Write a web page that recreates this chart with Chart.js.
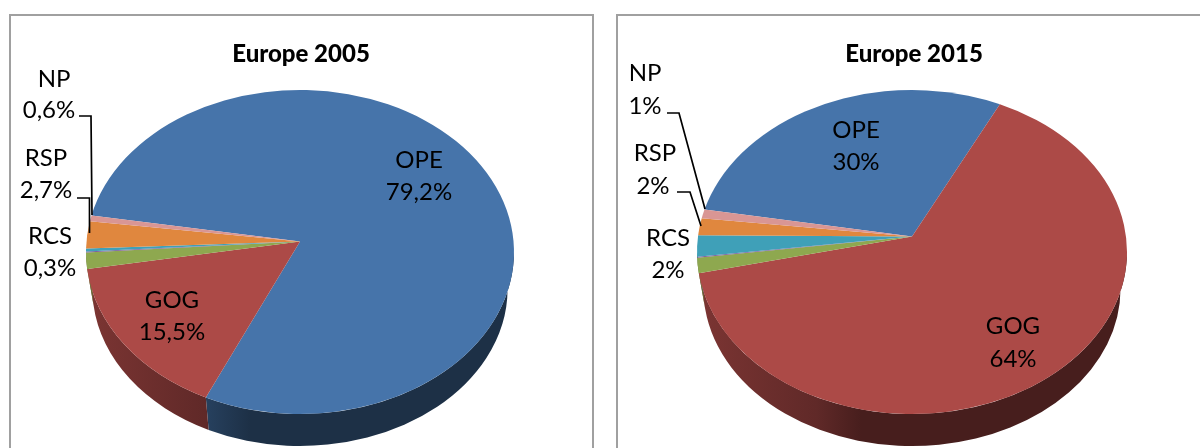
<!DOCTYPE html>
<html><head><meta charset="utf-8">
<style>
html,body{margin:0;padding:0;width:1200px;height:448px;overflow:hidden;background:#fff}
.panel{position:absolute;top:14px;height:460px;border:2px solid #a0a0a0;box-sizing:border-box;background:#fff}
#p1{left:9px;width:585px}
#p2{left:616px;width:620px}
canvas{position:absolute;top:0}
#c1{left:0}
#c2{left:616px}
</style>
<script src="https://cdn.jsdelivr.net/npm/chart.js@4/dist/chart.umd.js"></script>
</head><body>
<div class="panel" id="p1"></div><div class="panel" id="p2"></div>
<canvas id="c1" width="602" height="448" style="width:602px;height:448px"></canvas>
<canvas id="c2" width="596" height="448" style="width:596px;height:448px"></canvas>
<script>
const categories = ['OPE','GOG','Other','Minor','RCS','RSP','NP'];
const values2005 = [79.2,15.5,1.6,0.1,0.3,2.7,0.6];
const values2015 = [29.6,64.0,1.5,0.1,2.1,1.7,0.9];
const labels2005 = ['79,2%','15,5%',null,null,'0,3%','2,7%','0,6%'];
const labels2015 = ['30%','64%',null,null,'2%','2%','1%'];
const colors = ['#4674AA','#AC4A47','#8EA84F','#7A5D9A','#3FA0B8','#E0873E','#D99694'];

function mult(hex,f){
  const n=parseInt(hex.slice(1),16);
  return `rgb(${Math.round((n>>16&255)*f)},${Math.round((n>>8&255)*f)},${Math.round((n&255)*f)})`;
}
const pie3d = {
  id:'pie3d',
  beforeDatasetDraw(chart,args,opts){
    const ctx=chart.ctx, g=opts.geom, arcs=args.meta.data;
    const cy=(g.top+g.bottom)/2, ry=(g.bottom-g.top)/2;
    const A=g.bottom-g.apex, B=g.apex-g.top;
    const k=(A-B)/(A+B), a=A*(1-k), b=g.rx*Math.sqrt(1-k*k);
    const TAU=Math.PI*2;
    const param=t=>{
      const s=Math.sin(t),c=Math.cos(t),w=1-k*s;
      const px=b*c/w, py=g.apex+a*s/w;
      return Math.atan2((py-cy)/ry,px/g.rx);
    };
    const spans=arcs.map(el=>{
      const p0=param(el.startAngle); let p1=param(el.endAngle);
      while(p1<p0)p1+=TAU;
      return [p0,p1];
    });
    // side walls first: the part of the rim facing the viewer; the lower rim is slightly smaller
    const rx2=g.rx*0.97, ry2=ry*0.97, cy2=g.bottom+g.depth-ry2;
    spans.forEach(([p0,p1],i)=>{
      for(const off of [0,TAU,-TAU]){
        const s=Math.max(p0+off,0), e=Math.min(p1+off,Math.PI);
        if(e>s){
          const gr=ctx.createLinearGradient(g.cx-g.rx,0,g.cx+g.rx,0);
          const st=[[-214,.72],[-95,.56],[-50,.41],[214,.41]];
          st.forEach(q=>gr.addColorStop((q[0]+214)/428,mult(colors[i],q[1])));
          ctx.beginPath();
          ctx.ellipse(g.cx,cy,g.rx,ry,0,s,e);
          ctx.ellipse(g.cx,cy2,rx2,ry2,0,e,s,true);
          ctx.closePath();
          ctx.fillStyle=gr;ctx.fill();
        }
      }
    });
    spans.forEach(([p0,p1],i)=>{
      ctx.beginPath();
      ctx.moveTo(g.cx,g.apex);
      ctx.ellipse(g.cx,cy,g.rx,ry,0,p0,p1);
      ctx.closePath();
      ctx.fillStyle=colors[i];ctx.fill();
    });
    return false;
  },
  afterDatasetsDraw(chart,args,opts){
    const ctx=chart.ctx;
    ctx.save();
    ctx.strokeStyle='#000';ctx.lineWidth=1.7;
    opts.leaders.forEach(l=>{
      ctx.beginPath();
      l.forEach((p,i)=>i?ctx.lineTo(p[0],p[1]):ctx.moveTo(p[0],p[1]));
      ctx.stroke();
    });
    ctx.fillStyle='#000';ctx.font='24px Lato';ctx.textAlign='center';ctx.textBaseline='middle';
    opts.places.forEach(p=>{
      ctx.fillText(categories[p.i],p.nx,p.ny);
      ctx.fillText(opts.texts[p.i],p.vx,p.vy);
    });
    ctx.restore();
  }
};
function make(id,title,values,texts,rotation,geom,leaders,places){
  new Chart(document.getElementById(id),{
    type:'pie',
    data:{labels:categories,datasets:[{data:values,backgroundColor:colors,borderWidth:0}]},
    plugins:[pie3d],
    options:{
      responsive:false,animation:false,rotation:rotation,
      plugins:{
        legend:{display:false},tooltip:{enabled:false},
        title:{display:true,text:title,color:'#000',font:{family:'Lato',size:24,weight:'900',lineHeight:1.2},padding:{top:40,bottom:0}},
        pie3d:{geom,leaders,places,texts}
      }
    }
  });
}
make('c1','Europe 2005',values2005,labels2005,279.4,
  {cx:300,apex:241.5,top:90,bottom:414,rx:214,depth:32},
  [[[79,116],[91,116],[92,215]],[[77,198],[89.5,198],[89.5,233]]],
  [{i:0,nx:419,ny:160,vx:419,vy:192},{i:1,nx:172,ny:300,vx:172,vy:332},
   {i:4,nx:50,ny:236,vx:50,vy:268},{i:5,nx:46,ny:158,vx:46,vy:190},{i:6,nx:54,ny:79,vx:49,vy:110}]);
make('c2','Europe 2015',values2015,labels2015,279.8,
  {cx:296,apex:236.5,top:90,bottom:414,rx:215,depth:32},
  [[[51,113],[63,113],[89,209]],[[61,192],[74,192],[85,226]]],
  [{i:0,nx:240,ny:130,vx:240,vy:162},{i:1,nx:397,ny:326,vx:397,vy:359},
   {i:4,nx:52,ny:238,vx:52,vy:270},{i:5,nx:39,ny:153,vx:37,vy:186},{i:6,nx:29,ny:73,vx:29,vy:106}]);
</script>
</body></html>
